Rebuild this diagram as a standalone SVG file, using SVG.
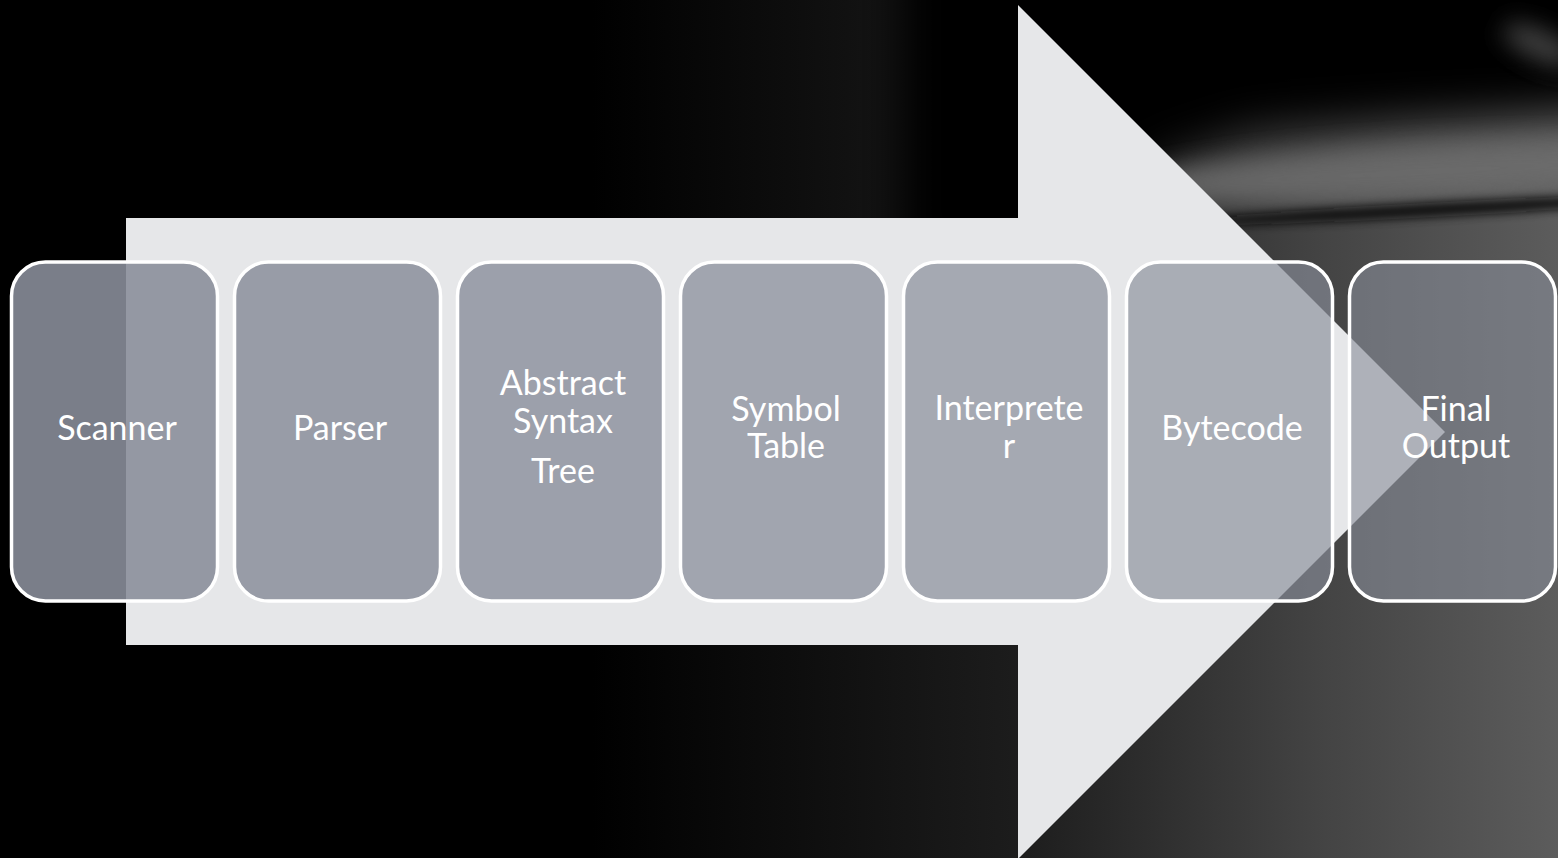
<svg xmlns="http://www.w3.org/2000/svg" width="1558" height="858" viewBox="0 0 1558 858">
  <defs>
    <linearGradient id="bgH" x1="0" y1="0" x2="1558" y2="0" gradientUnits="userSpaceOnUse">
      <stop offset="0" stop-color="#000"/>
      <stop offset="0.38" stop-color="#000"/>
      <stop offset="0.65" stop-color="#1c1c1c"/>
      <stop offset="0.85" stop-color="#444"/>
      <stop offset="1" stop-color="#5c5c5c"/>
    </linearGradient>
    <filter id="blur30" x="-50%" y="-50%" width="200%" height="200%"><feGaussianBlur stdDeviation="22"/></filter>
    <filter id="blur8" x="-50%" y="-200%" width="200%" height="500%"><feGaussianBlur stdDeviation="5"/></filter>
    <filter id="blur12" x="-50%" y="-200%" width="200%" height="500%"><feGaussianBlur stdDeviation="12"/></filter>
  </defs>
  <style>
    .box { stroke: #ffffff; stroke-width: 3.5; fill: rgb(137,142,154); }
    .lbl { font-family: Lato, "Open Sans", "Liberation Sans", sans-serif; font-size: 34px; font-weight: 400; fill: #ffffff; text-anchor: middle; }
  </style>

  <!-- background -->
  <rect x="0" y="0" width="1558" height="858" fill="#000"/>
  <rect x="0" y="0" width="1558" height="858" fill="url(#bgH)"/>
  <polygon points="900,-60 1620,-60 1620,110 1400,120 1250,130 1160,160 1100,250 900,270" fill="#000" filter="url(#blur30)"/>
  <ellipse cx="1420" cy="172" rx="290" ry="28" fill="#6e6e6e" opacity="0.85" filter="url(#blur12)" transform="rotate(-3 1420 172)"/>
  <ellipse cx="1430" cy="210" rx="250" ry="7" fill="#0e0e0e" opacity="0.95" filter="url(#blur8)" transform="rotate(-3 1430 210)"/>
  <ellipse cx="1540" cy="45" rx="40" ry="14" fill="#555" opacity="0.8" filter="url(#blur12)" transform="rotate(25 1540 45)"/>

  <!-- big arrow -->
  <g id="arrow">
    <polygon points="126,218 1018,218 1018,5 1445,432 1018,859 1018,645 126,645" fill="#e6e7e9"/>
  </g>

  <g id="connectors"></g>

  <g id="n1"><rect class="box" x="11.5" y="262" width="206" height="339" rx="34" fill-opacity="0.89"/><text class="lbl" x="117" y="440">Scanner</text></g>
  <g id="n2"><rect class="box" x="234.5" y="262" width="206" height="339" rx="34" fill-opacity="0.84"/><text class="lbl" x="340" y="440">Parser</text></g>
  <g id="n3"><rect class="box" x="457.5" y="262" width="206" height="339" rx="34" fill-opacity="0.795"/><text class="lbl" x="563" y="395">Abstract</text><text class="lbl" x="563" y="433">Syntax</text><text class="lbl" x="563" y="483">Tree</text></g>
  <g id="n4"><rect class="box" x="680.5" y="262" width="206" height="339" rx="34" fill-opacity="0.745"/><text class="lbl" x="786" y="421">Symbol</text><text class="lbl" x="786" y="458">Table</text></g>
  <g id="n5"><rect class="box" x="903.5" y="262" width="206" height="339" rx="34" fill-opacity="0.70"/><text class="lbl" x="1009" y="420">Interprete</text><text class="lbl" x="1009" y="458">r</text></g>
  <g id="n6"><rect class="box" x="1126.5" y="262" width="206" height="339" rx="34" fill-opacity="0.65"/><text class="lbl" x="1232" y="440">Bytecode</text></g>
  <g id="n7"><rect class="box" x="1349.5" y="262" width="206" height="339" rx="34" fill-opacity="0.60"/><text class="lbl" x="1456" y="421">Final</text><text class="lbl" x="1456" y="458">Output</text></g>
</svg>
